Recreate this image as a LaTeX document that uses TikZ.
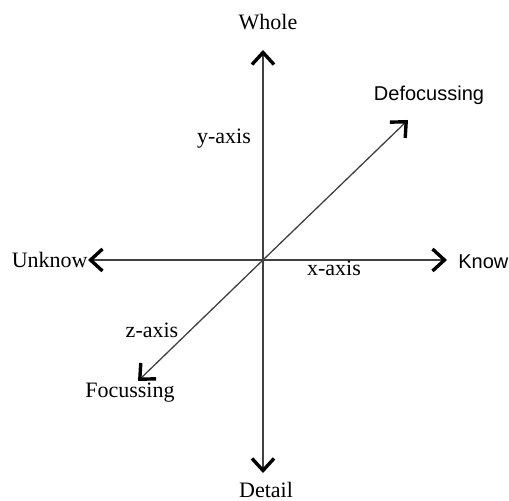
\documentclass[tikz,border=0pt]{standalone}
\usepackage{fontspec}
\setmainfont{Liberation Serif}
\newfontfamily\arialfont{Liberation Sans}
\usetikzlibrary{arrows.meta}
\begin{document}
\begin{tikzpicture}[x=0.5pt,y=-0.5pt,
  axisline/.style={draw=black!75, line width=0.65pt,
    -{Straight Barb[color=black,line width=1.7pt,length=6pt,width=11pt]}},
  serif label/.style={font=\fontsize{11}{13}\selectfont, inner sep=0pt},
  sans label/.style={font=\arialfont\fontsize{10}{12}\selectfont, inner sep=0pt}]
\useasboundingbox (0,0) rectangle (509,501);
\coordinate (O) at (263,260);
\coordinate (top) at (263,50);
\coordinate (bottom) at (263,473);
\coordinate (left) at (88,260);
\coordinate (right) at (447,260);
\coordinate (ur) at (408,120);
\coordinate (ll) at (138,381);
\draw[axisline] (O) -- (top);
\draw[axisline] (O) -- (bottom);
\draw[axisline] (O) -- (left);
\draw[axisline] (O) -- (right);
\draw[axisline] (O) -- (ur);
\draw[axisline] (O) -- (ll);
\node[serif label] (whole) at (268,22) {Whole};
\node[serif label] (detail) at (266,490) {Detail};
\node[serif label, anchor=east] (unknow) at (88,260) {Unknow};
\node[sans label, anchor=west] (know) at (458,262) {Know};
\node[sans label] (defoc) at (429,95) {Defocussing};
\node[serif label] (yaxis) at (224,139) {y-axis};
\node[serif label] (xaxis) at (334,268) {x-axis};
\node[serif label] (zaxis) at (152,330) {z-axis};
\node[serif label] (focus) at (130,393) {Focussing};
\end{tikzpicture}
\end{document}
